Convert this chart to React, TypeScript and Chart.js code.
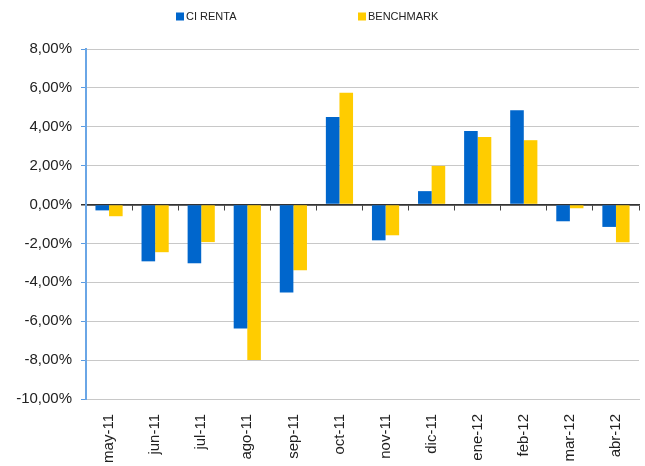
import React, { useEffect, useRef } from "react";
import { Chart, registerables } from "chart.js";

Chart.register(...registerables);

const categories = ["may-11", "jun-11", "jul-11", "ago-11", "sep-11", "oct-11", "nov-11", "dic-11", "ene-12", "feb-12", "mar-12", "abr-12"];
const ciRenta = [-0.3, -2.92, -3.02, -6.37, -4.52, 4.5, -1.84, 0.69, 3.78, 4.85, -0.86, -1.15];
const benchmark = [-0.6, -2.45, -1.93, -8.0, -3.38, 5.75, -1.58, 1.99, 3.47, 3.31, -0.19, -1.94];
const seriesNames = ["CI RENTA", "BENCHMARK"];
const seriesColors = ["#0066cc", "#ffcc00"];
const yMin = -10;
const yMax = 8;
const yStep = 2;

const FONT = "'Liberation Sans', Arial, Helvetica, sans-serif";

const legendPlugin = {
  id: "customLegend",
  afterDraw(chart: any) {
    const ctx = chart.ctx;
    const xs = [176, 358];
    ctx.save();
    ctx.font = "11px " + FONT;
    ctx.textBaseline = "middle";
    ctx.textAlign = "left";
    chart.data.datasets.forEach((ds: any, i: number) => {
      const x = xs[i];
      ctx.fillStyle = ds.backgroundColor;
      ctx.fillRect(x, 12.5, 8, 8);
      ctx.fillStyle = "#222";
      ctx.fillText(ds.label, x + 10, 17);
    });
    ctx.restore();
  },
};

export default function App() {
  const ref = useRef<HTMLCanvasElement | null>(null);
  useEffect(() => {
    document.body.style.margin = "0";
    document.body.style.overflow = "hidden";
    const chart = new Chart(ref.current as HTMLCanvasElement, {
      type: "bar",
      data: {
        labels: categories,
        datasets: [
          { label: seriesNames[0], data: ciRenta, backgroundColor: seriesColors[0], xAxisID: "x" },
          { label: seriesNames[1], data: benchmark, backgroundColor: seriesColors[1], xAxisID: "x" },
        ],
      },
      options: {
        animation: false,
        responsive: false,
        maintainAspectRatio: false,
        datasets: { bar: { categoryPercentage: 0.59, barPercentage: 1.0 } },
        layout: { padding: { top: 49, right: 6, left: 0, bottom: 0 } },
        plugins: { legend: { display: false }, tooltip: { enabled: false } },
        scales: {
          x: {
            type: "category",
            position: "bottom",
            offset: true,
            grid: { display: false },
            border: { display: true, color: "#c8c8c8", width: 1 },
            ticks: {
              maxRotation: 90,
              minRotation: 90,
              padding: 7,
              color: "#222",
              font: { size: 15, family: FONT },
              autoSkip: false,
            },
            afterFit(scale: any) {
              scale.height = 67;
            },
          },
          x2: {
            type: "category",
            position: { y: 0 } as any,
            offset: true,
            grid: {
              display: true,
              drawOnChartArea: false,
              drawTicks: true,
              tickLength: 5,
              tickColor: "#444",
              offset: true,
            },
            border: { display: true, color: "#333", width: 1.5 },
            ticks: { display: false },
          },
          y: {
            min: yMin,
            max: yMax,
            position: "left",
            ticks: {
              stepSize: yStep,
              padding: 9,
              color: "#222",
              font: { size: 15, family: FONT },
              callback: (v: any) => Number(v).toFixed(2).replace(".", ",") + "%",
            },
            grid: {
              color: (c: any) => (c.tick && c.tick.value === 0 ? "#333" : "#c8c8c8"),
              lineWidth: (c: any) => (c.tick && c.tick.value === 0 ? 1.5 : 1),
              tickColor: (c: any) => (c.tick && c.tick.value === 0 ? "#333" : "#5b9be0"),
              tickLength: 5,
              drawTicks: true,
            },
            border: { display: true, color: "#6aa6e6", width: 2 },
            afterFit(scale: any) {
              scale.width = 86;
            },
          },
        },
      },
      plugins: [legendPlugin],
    });
    return () => chart.destroy();
  }, []);
  return (
    <div style={{ width: 645, height: 466 }}>
      <canvas ref={ref} width={645} height={466} style={{ display: "block", width: 645, height: 466 }} />
    </div>
  );
}
